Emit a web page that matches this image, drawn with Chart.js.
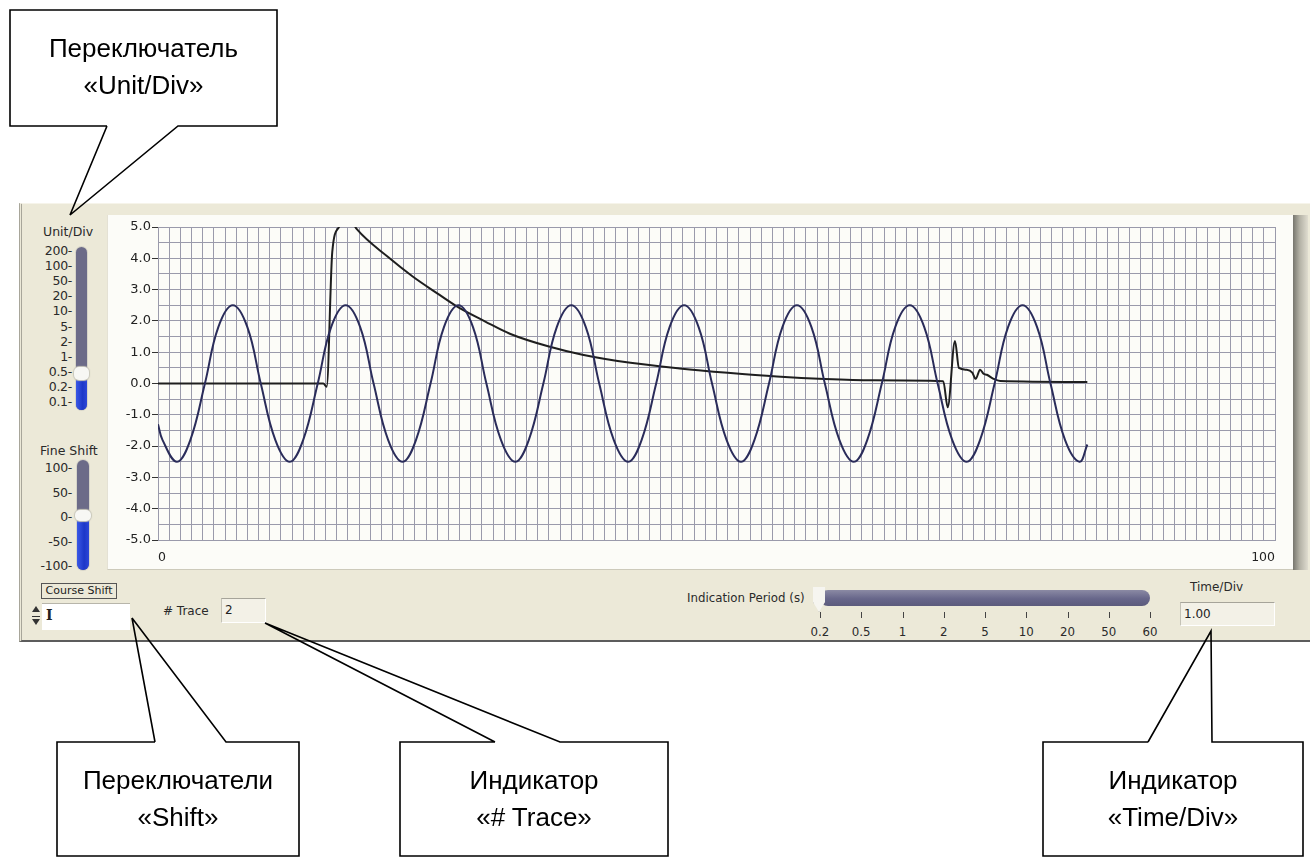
<!DOCTYPE html>
<html>
<head>
<meta charset="utf-8">
<title>Scope</title>
<script src="https://cdn.jsdelivr.net/npm/chart.js@4.4.0/dist/chart.umd.min.js"></script>
<style>
  html, body { margin: 0; padding: 0; background: #fff; }
  body { width: 1313px; height: 858px; position: relative; overflow: hidden; font-family: "DejaVu Sans", sans-serif; }
  .abs { position: absolute; }
  #panel { left: 19px; top: 203px; width: 1291px; height: 439px; background: #ECE9D8; border-left: 3px double #a8a69a; border-bottom: 2px solid #5c5c5c; border-top: 1px solid #f6f4ea; box-sizing: border-box; }
  #plotBg { left: 107px; top: 215px; width: 1186px; height: 355px; background: #FCFCF8; border-bottom: 1px solid #cdcabb; border-left: 1px solid #e4e1d4; box-sizing: border-box; }
  #bevel { left: 1293px; top: 215px; width: 15px; height: 355px; background: linear-gradient(to right, #77766e, #b4b2a6 45%, #e0ddd0); }
  #scope { position: absolute; left: 108px; top: 215px; }
  .lbl { position: absolute; font-size: 12px; line-height: 14px; color: #2a2a2a; white-space: nowrap; }
  .rt { text-align: right; width: 60px; left: 12px; font-size: 12.5px; letter-spacing: -0.3px; }
  .track { position: absolute; background: #6c6b88; border-radius: 6px; box-shadow: 0 0 0 1px #d6d4c8; overflow: hidden; }
  .blue { position: absolute; left: 0; right: 0; bottom: 0; background: linear-gradient(to right, #3a58e6, #1c37c8 60%, #2c47d8); }
  .knob { position: absolute; background: #f7f7f4; border-radius: 5px; box-shadow: 0 0 1px 1px #c9c7bb; }
  .box { position: absolute; background: #F3F1E7; border-top: 1px solid #a6a49a; border-left: 1px solid #c4c2b6; border-right: 1px solid #fff; border-bottom: 1px solid #fff; box-sizing: border-box; font-size: 12px; line-height: 22px; padding-left: 3px; color: #222; }
  svg text { font-family: "Liberation Sans", Arial, sans-serif; font-size: 26px; fill: #000; }
</style>
</head>
<body>

<div id="panel" class="abs"></div>
<div id="plotBg" class="abs"></div>
<div id="bevel" class="abs"></div>
<canvas id="scope" width="1185" height="355"></canvas>

<!-- left controls -->
<div class="lbl" style="left:43px; top:225px; font-size:12.5px;">Unit/Div</div>
<div id="unitLabels"></div>
<div class="track" style="left:76px; top:247px; width:11px; height:163px;"><div class="blue" style="height:30px;"></div></div>
<div class="knob" style="left:74px; top:367px; width:15px; height:13px;"></div>

<div class="lbl" style="left:40px; top:444px; font-size:12.5px;">Fine Shift</div>
<div id="fineLabels"></div>
<div class="track" style="left:77px; top:460px; width:12px; height:110px;"><div class="blue" style="height:49px;"></div></div>
<div class="knob" style="left:75px; top:510px; width:16px; height:11px;"></div>

<div class="abs" style="left:41px; top:583px; width:76px; height:16px; border:1px solid #555; box-sizing:border-box; font-size:11px; line-height:14px; text-align:center; color:#222;">Course Shift</div>
<div class="abs" style="left:32px; top:606px; width:0; height:0; border-left:4px solid transparent; border-right:4px solid transparent; border-bottom:6px solid #333;"></div>
<div class="abs" style="left:32px; top:616px; width:8px; height:1px; background:#333;"></div>
<div class="abs" style="left:32px; top:619px; width:0; height:0; border-left:4px solid transparent; border-right:4px solid transparent; border-top:6px solid #333;"></div>
<div class="abs" style="left:42px; top:603px; width:88px; height:26px; background:#fff; border-top:1px solid #b7b5aa;"></div>
<div class="abs" style="left:46px; top:607px; font-family:'DejaVu Serif',serif; font-weight:bold; font-size:14px; color:#222;">I</div>

<!-- bottom controls -->
<div class="lbl" style="left:163px; top:604px;"># Trace</div>
<div class="box" style="left:221px; top:598px; width:45px; height:25px;">2</div>

<div class="lbl" style="left:687px; top:591px; font-size:11.8px;">Indication Period (s)</div>
<div class="abs" style="left:820px; top:590px; width:330px; height:16px; border-radius:8px; background:linear-gradient(to bottom, #8b8aa4, #67668a 55%, #5c5b7c);"></div>
<div class="abs" style="left:813px; top:587px; width:12px; height:25px; background:#f6f5f0; box-shadow:0 0 1px #999; clip-path:polygon(0 0,100% 0,100% 60%,50% 100%,0 60%);"></div>
<div id="periodTicks"></div>

<div class="lbl" style="left:1190px; top:580px;">Time/Div</div>
<div class="box" style="left:1180px; top:602px; width:95px; height:24px;">1.00</div>

<!-- callouts -->
<svg class="abs" style="left:0; top:0;" width="1313" height="858">
  <g fill="#fff" stroke="none">
    <rect x="10" y="10" width="267" height="116"/>
    <rect x="57" y="742" width="242" height="114"/>
    <rect x="400" y="742" width="268" height="114"/>
    <rect x="1043" y="742" width="260" height="114"/>
  </g>
  <g fill="none" stroke="#000" stroke-width="1.6">
    <path d="M107,126 L70,215 L178,126 L277,126 L277,10 L10,10 L10,126 L107,126"/>
    <path d="M155,742 L132,618 L226,742 L299,742 L299,856 L57,856 L57,742 L155,742"/>
    <path d="M495,742 L265,623 L560,742 L668,742 L668,856 L400,856 L400,742 L495,742"/>
    <path d="M1148,742 L1211,631 L1212,742 L1303,742 L1303,856 L1043,856 L1043,742 L1148,742"/>
  </g>
  <g text-anchor="middle">
    <text x="143.5" y="57">Переключатель</text>
    <text x="143.5" y="94">«Unit/Div»</text>
    <text x="178" y="789">Переключатели</text>
    <text x="178" y="826">«Shift»</text>
    <text x="534" y="789">Индикатор</text>
    <text x="534" y="826">«# Trace»</text>
    <text x="1173" y="789">Индикатор</text>
    <text x="1173" y="826">«Time/Div»</text>
  </g>
</svg>

<script>
  // Trace 1: sine signal, sample times (div) and values (units)
  const sineT = [0, 0.4, 1.7, 2.9, 4.2, 5.4, 6.7, 8.0, 9.2, 10.5, 11.8, 13.0, 14.3, 15.5, 16.8, 18.1, 19.3,
    20.6, 21.9, 23.1, 24.4, 25.6, 26.9, 28.2, 29.4, 30.7, 32.0, 33.2, 34.5, 35.7, 37.0, 38.3, 39.5, 40.8,
    42.1, 43.3, 44.6, 45.8, 47.1, 48.4, 49.6, 50.9, 52.2, 53.4, 54.7, 55.9, 57.2, 58.5, 59.7, 61.0, 62.3,
    63.5, 64.8, 66.0, 67.3, 68.6, 69.8, 71.1, 72.4, 73.6, 74.9, 76.1, 77.4, 78.7, 79.9, 81.2, 82.5, 83.2];
  const sineV = [-1.3, -1.8, -2.5, -1.8, 0, 1.8, 2.5, 1.8, 0, -1.8, -2.5, -1.8, 0, 1.8, 2.5, 1.8, 0,
    -1.8, -2.5, -1.8, 0, 1.8, 2.5, 1.8, 0, -1.8, -2.5, -1.8, 0, 1.8, 2.5, 1.8, 0, -1.8,
    -2.5, -1.8, 0, 1.8, 2.5, 1.8, 0, -1.8, -2.5, -1.8, 0, 1.8, 2.5, 1.8, 0, -1.8, -2.5,
    -1.8, 0, 1.8, 2.5, 1.8, 0, -1.8, -2.5, -1.8, 0, 1.8, 2.5, 1.8, 0, -1.8, -2.5, -1.95];

  // Trace 2: step response with decay and a small burst
  const stepT = [0, 14.8, 15.1, 15.6, 16.2, 16.9, 17.8, 20.6, 22.8, 25.0, 26.9, 29.3, 31.5, 35.0, 38.0,
    42.3, 46.7, 51.0, 55.4, 59.7, 64.0, 70.3, 70.7, 71.35, 71.7, 72.4, 72.9, 73.2, 73.6, 73.9, 74.2, 74.8, 75.4, 83.2];
  const stepV = [0, 0, -0.1, 4.2, 5.0, 5.4, 4.93, 4.04, 3.42, 2.88, 2.43, 1.98, 1.59, 1.18, 0.92,
    0.66, 0.48, 0.34, 0.22, 0.14, 0.10, 0.07, -0.76, 1.36, 0.5, 0.44, 0.35, 0.15, 0.44, 0.31, 0.28, 0.15, 0.08, 0.05];

  // Control scales
  const unitDivTicks = ['200', '100', '50', '20', '10', '5', '2', '1', '0.5', '0.2', '0.1'];
  const fineShiftTicks = ['100', '50', '0', '-50', '-100'];
  const periodTicks = ['0.2', '0.5', '1', '2', '5', '10', '20', '50', '60'];

  // Build slider labels
  function addLabels(containerId, labels, top0, step) {
    const box = document.getElementById(containerId);
    labels.forEach((txt, i) => {
      const d = document.createElement('div');
      d.className = 'lbl rt';
      d.style.top = (top0 + i * step - 7) + 'px';
      d.textContent = txt + '-';
      box.appendChild(d);
    });
  }
  addLabels('unitLabels', unitDivTicks, 251, 15.1);
  addLabels('fineLabels', fineShiftTicks, 468, 24.5);

  const period = document.getElementById('periodTicks');
  periodTicks.forEach((txt, i) => {
    const x = 820 + i * 41.25;
    const mark = document.createElement('div');
    mark.className = 'abs';
    mark.style.cssText = `left:${x}px; top:612px; width:1px; height:6px; background:#444;`;
    period.appendChild(mark);
    const lab = document.createElement('div');
    lab.className = 'lbl';
    lab.style.cssText += `left:${x - 15}px; width:30px; text-align:center; top:625px; font-size:11.8px;`;
    lab.textContent = txt;
    period.appendChild(lab);
  });

  // Scope chart
  const gridColor = '#9a9aab';
  const ctx = document.getElementById('scope').getContext('2d');
  const scopeChart = new Chart(ctx, {
    type: 'line',
    data: {
      datasets: [{
        label: 'Trace 1',
        data: sineT.map((t, i) => ({ x: t, y: sineV[i] })),
        borderColor: '#2a2c5a',
        borderWidth: 2,
        pointRadius: 0,
        tension: 0.4
      }, {
        label: 'Trace 2',
        data: stepT.map((t, i) => ({ x: t, y: stepV[i] })),
        borderColor: '#1e1e1e',
        borderWidth: 2,
        pointRadius: 0,
        cubicInterpolationMode: 'monotone'
      }]
    },
    options: {
      responsive: false,
      animation: false,
      layout: { padding: { top: 12, right: 18, left: 0, bottom: 0 } },
      plugins: {
        legend: { display: false },
        tooltip: { enabled: false }
      },
      scales: {
        x: {
          type: 'linear',
          min: 0,
          max: 100,
          afterFit: s => { s.height = 30; },
          grid: { color: gridColor, drawTicks: false },
          border: { color: gridColor },
          ticks: {
            stepSize: 1,
            autoSkip: false,
            maxRotation: 0,
            align: 'inner',
            padding: 10,
            color: '#222',
            font: { family: 'DejaVu Sans', size: 12.5 },
            callback: v => (v === 0 || v === 100) ? String(v) : ''
          }
        },
        y: {
          min: -5,
          max: 5,
          afterFit: s => { s.width = 50; },
          grid: {
            color: gridColor,
            tickLength: 6,
            tickColor: c => (c.tick && Number.isInteger(c.tick.value)) ? '#333' : 'rgba(0,0,0,0)'
          },
          border: { color: gridColor },
          ticks: {
            stepSize: 0.5,
            autoSkip: false,
            padding: 1,
            color: '#222',
            font: { family: 'DejaVu Sans', size: 13 },
            callback: v => Number.isInteger(v) ? v.toFixed(1) : ''
          }
        }
      }
    }
  });
</script>
</body>
</html>
